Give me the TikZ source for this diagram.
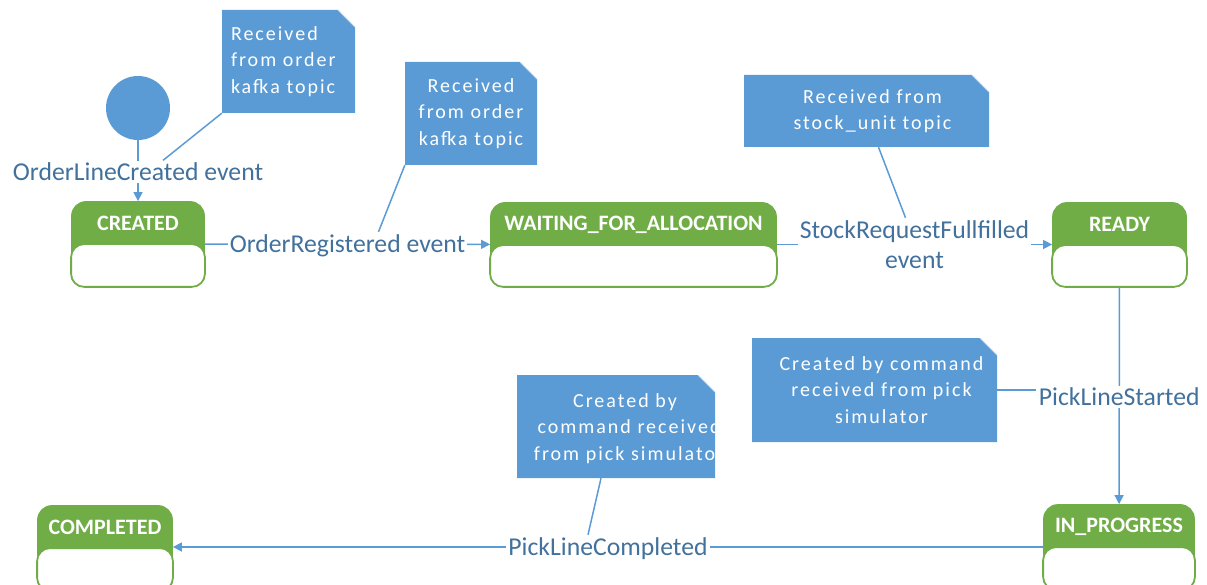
\documentclass[tikz,border=0pt]{standalone}
\usepackage{fontspec}
\setmainfont{Carlito}
\newfontfamily\notefont[LetterSpace=10]{Carlito}
\usetikzlibrary{arrows.meta}

\definecolor{noteblue}{HTML}{5B9BD5}
\definecolor{foldline}{HTML}{C9DDF0}
\definecolor{labelblue}{HTML}{41719C}
\definecolor{stgreen}{HTML}{70AD47}

\tikzset{
  x=1pt, y=-1pt,
  conn/.style={draw=noteblue, line width=1.5pt},
  flow/.style={conn, -{Triangle[length=9pt,width=9pt]}},
  evlabel/.style={fill=white, text=labelblue, inner sep=2pt, align=center,
    font=\fontsize{25.7}{30}\selectfont},
  statebox/.style={draw=stgreen, fill=stgreen, line width=1.8pt,
    rounded corners=14pt, inner sep=0pt},
  headtext/.style={text=white, inner sep=0pt, font=\bfseries\fontsize{22}{25}\selectfont},
  notetext/.style={text=white, inner sep=0pt, font=\notefont\fontsize{20}{26.5}\selectfont},
  notebox/.style={notetext, path picture={
    \fill[noteblue] (path picture bounding box.north west)
      -- ([xshift=-17pt]path picture bounding box.north east)
      -- ([yshift=-17pt]path picture bounding box.north east)
      -- (path picture bounding box.south east)
      -- (path picture bounding box.south west) -- cycle;
    \draw[foldline, line width=0.8pt]
      ([xshift=-17pt]path picture bounding box.north east)
      -- ([yshift=-17pt]path picture bounding box.north east);
  }},
  initial/.style={circle, fill=noteblue, minimum size=64pt, inner sep=0pt},
}

% white body compartment and title of a state
\newcommand{\stateparts}[2]{%
  \draw[stgreen, line width=1.8pt, fill=white, rounded corners=13pt]
    ([yshift=-43pt]#1.north west) rectangle (#1.south east);
  \node[headtext] (#1-title) at ([yshift=-22.5pt]#1.north) {#2};
}

\begin{document}
\begin{tikzpicture}
\useasboundingbox (0,0) rectangle (1207,585);

% states
\node[statebox, minimum width=132pt, minimum height=84pt] (created)   at (138,244)   {};
\node[statebox, minimum width=285pt, minimum height=83pt] (waiting)   at (633.5,244.5) {};
\node[statebox, minimum width=133pt, minimum height=83pt] (ready)     at (1119.5,244.5) {};
\node[statebox, minimum width=150pt, minimum height=84pt] (inprog)    at (1119,547)  {};
\node[statebox, minimum width=134pt, minimum height=84pt] (completed) at (105,548)   {};
\stateparts{created}{CREATED}
\stateparts{waiting}{WAITING\_FOR\_ALLOCATION}
\stateparts{ready}{READY}
\stateparts{inprog}{IN\_PROGRESS}
\stateparts{completed}{COMPLETED}

% initial pseudo-state
\node[initial] (init) at (138,108) {};

% notes
\node[notebox, minimum width=133pt, minimum height=103pt, text width=117pt, align=left]
  (n1) at (288.5,61.5) {\hspace*{1pt}Received\\\hspace*{1pt}from order\\\hspace*{1pt}kafka topic};
\node[notebox, minimum width=132pt, minimum height=103pt, text width=116pt, align=center]
  (n2) at (471,113.5) {Received\\from order\\kafka topic};
\node[notebox, minimum width=245pt, minimum height=72pt, text width=229pt, align=center]
  (n3) at (866.5,111) {\hspace*{12pt}Received from\\\hspace*{12pt}stock\_unit topic};
\node[notebox, minimum width=245pt, minimum height=104pt, text width=229pt, align=center]
  (n4) at (874.5,390) {\hspace*{14pt}Created by command\\\hspace*{14pt}received from pick\\\hspace*{14pt}simulator};
\node[notebox, minimum width=198pt, minimum height=103pt] (n5) at (616,426.5) {};
\begin{scope}
  \clip (n5.north west) rectangle (n5.south east);
  \node[notetext, text width=220pt, align=center] (n5text) at ([xshift=13pt,yshift=-2pt]n5.center)
    {\hspace*{-8pt}Created by\\command received\\from pick simulator};
\end{scope}

% transitions
\draw[flow] (init) -- node[evlabel, yshift=-1.5pt] (l1) {OrderLineCreated event} (created);
\draw[flow] (created) -- node[evlabel, yshift=-1.5pt] (l2) {OrderRegistered event} (waiting);
\draw[flow] (waiting) -- node[evlabel] (l3) {StockRequestFullfilled\\event} (ready);
\draw[flow] (ready) -- node[evlabel, yshift=-1.5pt] (l4) {PickLineStarted} (inprog);
\draw[flow] (inprog.west) -- node[evlabel, yshift=-1.5pt] (l5) {PickLineCompleted} (inprog.west -| completed.east);

% note anchors
\draw[conn] (n1.south west) -- ([xshift=25pt]l1.north);
\draw[conn] (n2.south west) -- ([xshift=31pt]l2.north);
\draw[conn] ([xshift=12pt]n3.south) -- ([xshift=-9pt]l3.north);
\draw[conn] (n4.east) -- (n4.east -| l4.west);
\draw[conn] ([xshift=-15pt]n5.south) -- ([xshift=-20pt]l5.north);
\end{tikzpicture}
\end{document}
